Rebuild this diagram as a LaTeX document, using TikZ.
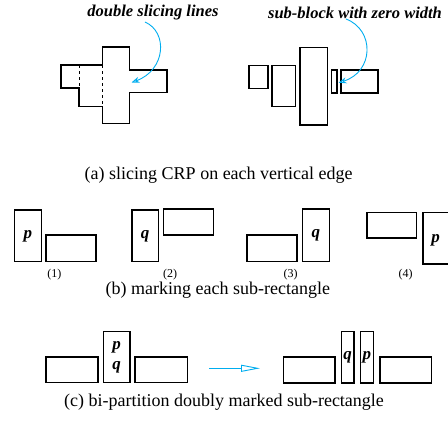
\documentclass[tikz,border=0pt]{standalone}
\usepackage{fontspec}
\setmainfont{Liberation Serif}
\usetikzlibrary{arrows.meta}
\begin{document}
\begin{tikzpicture}[x=1pt,y=-1pt,
  blk/.style={draw=black,line width=1.6pt},
  cutline/.style={draw=black,line width=0.9pt,dash pattern=on 3pt off 3pt},
  lbl/.style={font=\fontsize{16.5}{18}\selectfont\bfseries\itshape,inner sep=0pt},
  mk/.style={font=\fontsize{17}{18}\selectfont\bfseries\itshape,inner sep=0pt},
  captxt/.style={font=\fontsize{18}{20}\selectfont,inner sep=0pt},
  num/.style={font=\fontsize{12}{14}\selectfont,inner sep=0pt},
  cy/.style={draw=cyan,line width=0.9pt}]
\useasboundingbox (0,0) rectangle (448,427);
% (a) left
\draw[blk] (60.7,65.3) -- (102.3,65.3) -- (102.3,47) -- (129.5,47) -- (129.5,70) -- (166.7,70) -- (166.7,92.7) -- (129.5,92.7) -- (129.5,123.7) -- (102.3,123.7) -- (102.3,106.7) -- (79,106.7) -- (79,88.3) -- (60.7,88.3) -- cycle;
\draw[cutline] (79,65.3) -- (79,88.3);
\draw[cutline] (102.3,65.3) -- (102.3,106.7);
\draw[draw=white,line width=0.9pt,dash pattern=on 2pt off 2pt] (129.5,71) -- (129.5,91.7);
\node[lbl] (t1) at (153,12.7) {double slicing lines};
\coordinate (e1) at (131.5,82.5);
\draw[cy,-{Stealth[open,length=8pt,width=6pt]}] (145,22) .. controls (168,32) and (166,70) .. (e1);
% (a) right
\draw[blk] (249,65.7) rectangle (267.7,88.7);
\draw[blk] (272,65.7) rectangle (295.3,106.7);
\draw[blk] (299.7,47.7) rectangle (327.3,125);
\draw[blk] (331.3,70) rectangle (336.7,93.3);
\draw[blk] (340.7,70) rectangle (378,93.3);
\node[lbl] (t2) at (355,12.7) {sub-block with zero width};
\coordinate (e2) at (338.5,82.7);
\draw[cy,-{Stealth[open,length=8pt,width=6pt]}] (346,19) .. controls (375,30) and (374,72) .. (e2);
\node[captxt] (ca) at (218.7,175) {(a) slicing CRP on each vertical edge};
% (b)
\draw[blk] (14.3,210) rectangle node[mk] (p1) {p} (41.3,261.7);
\draw[blk] (45.7,235) rectangle (96,261.7);
\draw[blk] (131.7,210) rectangle node[mk] (q2) {q} (158.3,261.7);
\draw[blk] (163.3,209) rectangle (213.3,235);
\draw[blk] (246.7,235) rectangle (296.7,261.7);
\draw[blk] (302.3,209) rectangle node[mk] (q3) {q} (329.3,261.7);
\draw[blk] (366.7,212.7) rectangle (416.3,238.3);
\draw[blk] (422.7,212.7) rectangle (452,264.3);
\node[mk] (p4) at (435.5,240) {p};
\node[num] (n1) at (54.3,274.3) {(1)};
\node[num] (n2) at (170,274.3) {(2)};
\node[num] (n3) at (290.7,274.3) {(3)};
\node[num] (n4) at (405.7,274.3) {(4)};
\node[captxt] (cb) at (217.8,290) {(b) marking each sub-rectangle};
% (c)
\draw[blk] (45.7,357.3) rectangle (97.7,382.7);
\draw[blk] (103.3,331.7) rectangle (129.7,382.7);
\node[mk] (pc) at (116.5,347) {p};
\node[mk] (qc) at (116.5,367) {q};
\draw[blk] (135,357.3) rectangle (187.3,382.7);
\coordinate (as) at (209.3,368.3);
\coordinate (ae) at (260,368.3);
\draw[cy,-{Triangle[open,length=19pt,width=7pt]}] (as) -- (ae);
\draw[blk] (283.3,357.3) rectangle (335,383);
\draw[blk] (341.3,331.7) rectangle node[mk] (qd) {q} (354,383);
\draw[blk] (360.3,331.7) rectangle node[mk] (pd) {p} (373.3,383);
\draw[blk] (379.7,357.3) rectangle (431.3,383);
\node[captxt] (cc) at (224,402.7) {(c) bi-partition doubly marked sub-rectangle};
\end{tikzpicture}
\end{document}
